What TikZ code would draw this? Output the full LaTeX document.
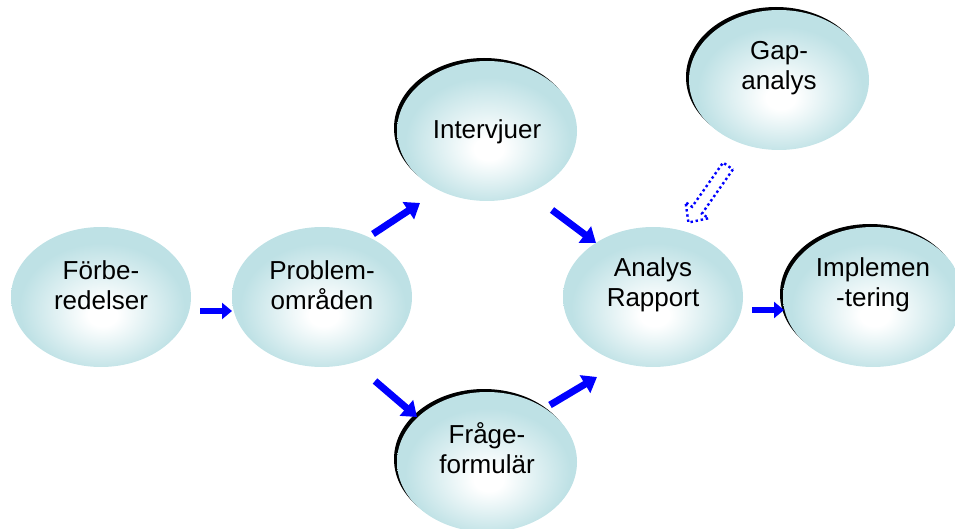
\documentclass[tikz,border=0pt]{standalone}
\usepackage{fontspec}
\setmainfont{Liberation Sans}
\usetikzlibrary{shapes.geometric,arrows.meta}
\definecolor{bubbleteal}{RGB}{190,225,229}
\definecolor{arrowblue}{RGB}{0,0,255}
% soft white glow, slightly below the middle of each bubble
\pgfdeclareradialshading{bubbleglow}{\pgfpoint{0.5bp}{-7bp}}{%
  color(0bp)=(white); color(4bp)=(white); color(23bp)=(bubbleteal); color(50bp)=(bubbleteal)}
\tikzset{
  bubble/.style={ellipse, minimum width=180pt, minimum height=140pt, inner sep=0pt,
                 shade, shading=bubbleglow},
  rim/.style={ellipse, fill=black, minimum width=180pt, minimum height=140pt, inner sep=0pt},
  caption/.style={align=center, font=\fontsize{26}{30}\selectfont, inner sep=0pt},
  flowshort/.style={draw=arrowblue, line width=6.5pt, -{Triangle[length=10pt,width=16pt]}},
  flow/.style={draw=arrowblue, line width=7pt, -{Triangle[length=14pt,width=20pt]}},
  hint/.style={draw=arrowblue, line width=2.4pt, dash pattern=on 2.4pt off 2.8pt}
}
\begin{document}
\begin{tikzpicture}[x=1pt, y=-1pt]
\useasboundingbox (0,0) rectangle (955,529);

% dark rims behind some bubbles
\node[rim] (intv-rim) at (484,128) {};
\node[rim] (gap-rim)  at (776,77)  {};
\node[rim] (impl-rim) at (870,294) {};
\node[rim] (form-rim) at (484,459) {};

% bubbles
\node[bubble] (prep) at (101,297) {};
\node[bubble] (prob) at (322,297) {};
\node[bubble] (intv) at (487,131) {};
\node[bubble] (gap)  at (779,80)  {};
\node[bubble] (ana)  at (653,297) {};
\node[bubble] (impl) at (873,297) {};
\node[bubble] (form) at (487,462) {};

% captions
\node[caption] (prep-t) at ([yshift=12pt]prep.center) {Förbe-\\redelser};
\node[caption] (prob-t) at ([yshift=12pt]prob.center) {Problem-\\områden};
\node[caption] (intv-t) at ([yshift=-1pt]intv.center) {Intervjuer};
\node[caption] (gap-t)  at ([yshift=12pt]gap.center)  {Gap-\\analys};
\node[caption] (ana-t)  at ([yshift=12pt]ana.center)  {Analys\\Rapport};
\node[caption] (impl-t) at ([yshift=12pt]impl.center) {Implemen\\-tering};
\node[caption] (form-t) at ([yshift=14pt]form.center) {Fråge-\\formulär};

% arrow end points
\coordinate (p1) at (200,311); \coordinate (p2) at (232,311);
\coordinate (q1) at (373,234); \coordinate (q2) at (420,203);
\coordinate (r1) at (375,381); \coordinate (r2) at (417,417);
\coordinate (s1) at (552,210); \coordinate (s2) at (596,243);
\coordinate (t1) at (550,405); \coordinate (t2) at (597,377);
\coordinate (u1) at (752,310); \coordinate (u2) at (784,310);

\draw[flowshort] (p1) -- (p2);
\draw[flow] (q1) -- (q2);
\draw[flow] (r1) -- (r2);
\draw[flow] (s1) -- (s2);
\draw[flow] (t1) -- (t2);
\draw[flowshort] (u1) -- (u2);

% hollow dotted arrow from the gap analysis
\begin{scope}[shift={(728,166)}, rotate=-125]
  \draw[hint] (0,-6) -- (54,-6) -- (54,-14) -- (69,0) -- (54,14) -- (54,6) -- (0,6) -- cycle;
\end{scope}
\end{tikzpicture}
\end{document}
